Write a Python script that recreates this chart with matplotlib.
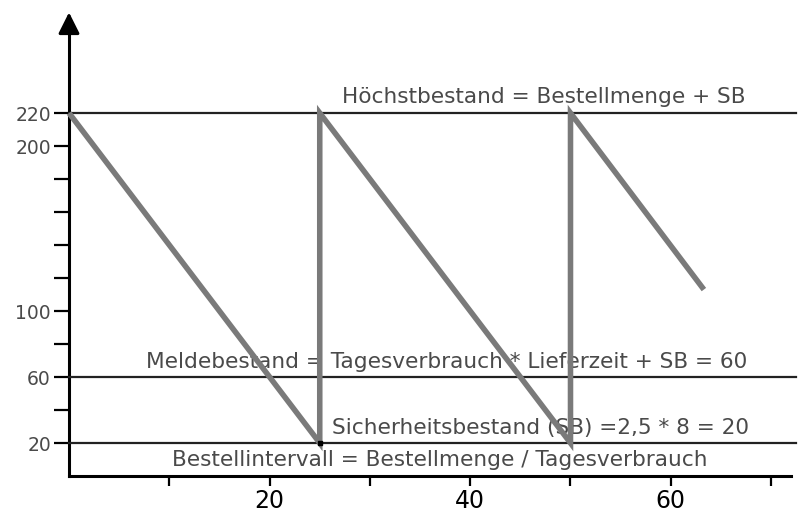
"""
Lagerbestand-Sägezahn: Höchstbestand, Meldebestand, Sicherheitsbestand.
"""

import matplotlib
matplotlib.use('Agg')
import matplotlib.pyplot as plt

# Bestandsverlauf (Tag, Bestand)
days = [0, 25, 25, 50, 50, 63.3]
stock = [220, 20, 220, 20, 220, 113]

# Kennlinien
max_stock = 220
reorder_level = 60
safety_stock = 20

y_ticks = [20, 40, 60, 80, 100, 120, 140, 160, 180, 200, 220]
y_labels = ['20', '', '60', '', '100', '', '', '', '', '200', '220']
x_ticks = [10, 20, 30, 40, 50, 60, 70]
x_labels = ['', '20', '', '40', '', '60', '']

FONT = 'DejaVu Sans'
TEXT_GRAY = '#4a4a4a'
LINE_GRAY = '#7a7a7a'

fig = plt.figure(figsize=(8.06, 5.11), dpi=100)
ax = fig.add_axes([0, 0, 1, 1])
ax.set_xlim(-6.88, 73.48)
ax.set_ylim(-21.2, 288.5)

# ── Achsen ──
for side in ('top', 'right'):
    ax.spines[side].set_visible(False)
ax.spines['left'].set_position(('data', 0))
ax.spines['bottom'].set_position(('data', 0))
ax.spines['left'].set_bounds(0, 272)
ax.spines['bottom'].set_bounds(0, 72)
ax.spines['left'].set_linewidth(2.2)
ax.spines['bottom'].set_linewidth(2.2)

ax.annotate('', xy=(0, 281), xytext=(0, 268),
            arrowprops=dict(arrowstyle='-|>', color='black', lw=2.2,
                            mutation_scale=32, shrinkA=0, shrinkB=0))
ax.annotate('', xy=(73.6, 0), xytext=(71, 0),
            arrowprops=dict(arrowstyle='-|>', color='black', lw=2.2,
                            mutation_scale=32, shrinkA=0, shrinkB=0))

ax.set_yticks(y_ticks)
ax.set_yticklabels(y_labels, fontfamily=FONT, fontsize=13.5, color=TEXT_GRAY)
ax.set_xticks(x_ticks)
ax.set_xticklabels(x_labels, fontfamily=FONT, fontsize=17, color='black')
ax.tick_params(axis='y', direction='out', length=11, width=1.6, pad=2)
ax.tick_params(axis='x', direction='out', length=7, width=1.6, pad=2)

# ── Horizontale Linien ──
for level in (max_stock, reorder_level, safety_stock):
    ax.plot([0, 72.5], [level, level], color='#222222', lw=1.6, zorder=3)

# ── Sägezahn ──
ax.plot(days, stock, color=LINE_GRAY, lw=4, solid_capstyle='butt',
        solid_joinstyle='miter', zorder=4)
ax.plot([25], [safety_stock], marker='s', color='black', markersize=3, zorder=5)

# ── Beschriftungen ──
txt = dict(fontfamily=FONT, fontsize=15.6, color=TEXT_GRAY,
           ha='center', va='center', zorder=1)
ax.text(47.3, 229.7, 'Höchstbestand = Bestellmenge + SB', **txt)
ax.text(37.6, 69, 'Meldebestand = Tagesverbrauch * Lieferzeit + SB = 60', **txt)
ax.text(47.0, 29, 'Sicherheitsbestand (SB) =2,5 * 8 = 20', **txt)
ax.text(37.0, 9.7, 'Bestellintervall = Bestellmenge / Tagesverbrauch', **txt)

fig.savefig('out.png', dpi=100)
plt.close(fig)
